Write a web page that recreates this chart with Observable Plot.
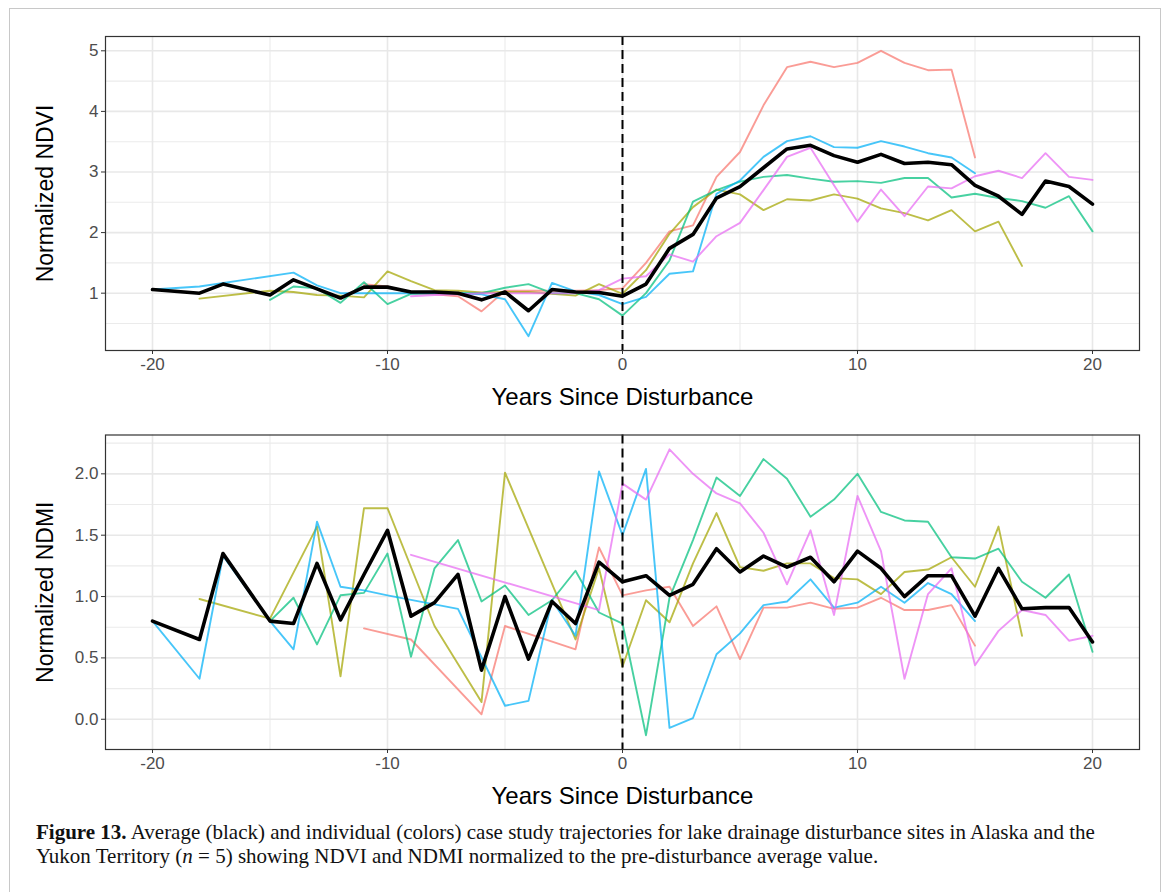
<!DOCTYPE html>
<html>
<head>
<meta charset="utf-8">
<script src="https://cdn.jsdelivr.net/npm/d3@7"></script>
<script src="https://cdn.jsdelivr.net/npm/@observablehq/plot@0.6"></script>
<style>
  body { margin: 0; background: #fff; }
  #fig { position: relative; width: 1168px; height: 892px; overflow: hidden; background: #fff;
         font-family: "Liberation Sans", Arial, sans-serif; }
  #border { position: absolute; left: 9px; top: 8px; width: 1150px; height: 900px; border: 1px solid #c8c8c8; }
  .panel { position: absolute; left: 0; }
  .panel svg { background: none !important; overflow: visible; }
  #caption { position: absolute; left: 36px; top: 820px; font-family: "Liberation Serif", "Times New Roman", serif;
             font-size: 21px; line-height: 24px; color: #111; white-space: nowrap; }
</style>
</head>
<body>
<div id="fig">
  <div id="border"></div>
  <div id="bottom" class="panel" style="top:398px"></div>
  <div id="top" class="panel" style="top:0px"></div>
  <div id="caption"><b>Figure 13.</b> Average (black) and individual (colors) case study trajectories for lake drainage disturbance sites in Alaska and the<br>Yukon Territory (<i>n</i> = 5) showing NDVI and NDMI normalized to the pre-disturbance average value.</div>
</div>
<script>
// Years relative to the disturbance, -20 … 20 (41 entries per series; null = no observation)
const years = d3.range(-20, 21);

const siteNames = ["site1", "site2", "site3", "site4", "site5"];
const siteColors = ["#F8766D", "#A3A500", "#00BF7D", "#00B0F6", "#E76BF3"];

// ---- Normalized NDVI ----
const ndviSite1 = [
  null, null, null, null, null, null, null, null, null, 1.15,
  1.11, 1.00, 0.98, 0.95, 0.70, 1.04, 1.04, 1.04, 1.04, 1.05,
  1.08, 1.50, 2.02, 2.12, 2.92, 3.33, 4.10, 4.73, 4.82, 4.73,
  4.80, 5.00, 4.80, 4.68, 4.69, 3.24, null, null, null, null, null];
const ndviSite2 = [
  null, null, 0.91, null, null, 1.04, 1.02, 0.97, 0.96, 0.93,
  1.36, 1.20, 1.05, 1.04, 1.01, 1.02, 1.02, 0.99, 0.96, 1.15,
  0.99, 1.38, 1.98, 2.42, 2.71, 2.63, 2.37, 2.55, 2.53, 2.63,
  2.56, 2.40, 2.32, 2.20, 2.37, 2.02, 2.18, 1.45, null, null, null];
const ndviSite3 = [
  null, null, null, null, null, 0.89, 1.11, 1.08, 0.84, 1.18,
  0.82, 0.99, 1.00, 1.00, 1.00, 1.09, 1.15, 1.00, 1.00, 0.90,
  0.63, 1.00, 1.54, 2.51, 2.70, 2.84, 2.92, 2.95, 2.89, 2.84,
  2.85, 2.82, 2.90, 2.90, 2.58, 2.64, 2.57, 2.52, 2.41, 2.60, 2.02];
const ndviSite4 = [
  1.06, null, 1.11, null, null, null, 1.34, 1.13, 1.00, 1.00,
  1.00, 1.00, 1.00, 1.00, 0.98, 0.90, 0.29, 1.17, 1.03, 0.97,
  0.82, 0.94, 1.32, 1.36, 2.64, 2.86, 3.25, 3.51, 3.59, 3.41,
  3.40, 3.51, 3.42, 3.31, 3.24, 2.98, null, null, null, null, null];
const ndviSite5 = [
  null, null, null, null, null, null, null, null, null, null,
  null, 0.95, 0.97, 0.98, 1.00, 1.00, 1.00, 1.00, 1.00, 1.05,
  1.24, 1.28, 1.64, 1.52, 1.94, 2.16, 2.70, 3.25, 3.40, 2.78,
  2.18, 2.71, 2.27, 2.76, 2.73, 2.93, 3.02, 2.90, 3.31, 2.92, 2.87];
const ndviMean = [
  1.06, null, 1.00, 1.15, null, 0.97, 1.22, 1.07, 0.92, 1.10,
  1.10, 1.02, 1.02, 1.00, 0.89, 1.02, 0.71, 1.06, 1.02, 1.01,
  0.95, 1.15, 1.74, 1.97, 2.57, 2.76, 3.07, 3.38, 3.44, 3.27,
  3.16, 3.29, 3.14, 3.16, 3.12, 2.78, 2.60, 2.30, 2.85, 2.76, 2.47];

// ---- Normalized NDMI ----
const ndmiSite1 = [
  null, null, null, null, null, null, null, null, null, 0.74,
  null, 0.65, null, null, 0.04, 0.76, null, null, 0.57, 1.40,
  1.01, 1.05, 1.08, 0.76, 0.92, 0.49, 0.91, 0.91, 0.95, 0.90,
  0.91, 0.99, 0.89, 0.89, 0.93, 0.60, null, null, null, null, null];
const ndmiSite2 = [
  null, null, 0.98, null, null, 0.82, null, 1.57, 0.35, 1.72,
  1.72, null, 0.76, null, 0.14, 2.01, null, null, 0.65, 1.23,
  0.43, 0.97, 0.79, 1.27, 1.68, 1.24, 1.21, 1.27, 1.27, 1.15,
  1.14, 1.02, 1.20, 1.22, 1.32, 1.08, 1.57, 0.68, null, null, null];
const ndmiSite3 = [
  null, null, null, null, null, 0.80, 0.99, 0.61, 1.01, 1.03,
  1.35, 0.51, 1.23, 1.46, 0.96, 1.09, 0.85, 0.97, 1.21, 0.87,
  0.78, -0.13, 0.99, 1.46, 1.97, 1.82, 2.12, 1.96, 1.65, 1.79,
  2.00, 1.69, 1.62, 1.61, 1.32, 1.31, 1.39, 1.12, 0.99, 1.18, 0.55];
const ndmiSite4 = [
  0.80, null, 0.33, 1.33, null, 0.80, 0.57, 1.61, 1.08, 1.05,
  1.01, null, null, 0.90, null, 0.11, 0.15, 0.97, 0.68, 2.02,
  1.50, 2.04, -0.07, 0.01, 0.53, 0.70, 0.93, 0.96, 1.14, 0.91,
  0.95, 1.08, 0.95, 1.11, 1.02, 0.80, null, null, null, null, null];
const ndmiSite5 = [
  null, null, null, null, null, null, null, null, null, null,
  null, 1.34, null, null, null, null, null, null, null, 0.89,
  1.92, 1.79, 2.20, 2.00, 1.84, 1.76, 1.52, 1.10, 1.54, 0.85,
  1.82, 1.37, 0.33, 1.02, 1.23, 0.44, 0.72, 0.89, 0.85, 0.64, 0.68];
const ndmiMean = [
  0.80, null, 0.65, 1.35, null, 0.80, 0.78, 1.27, 0.81, 1.18,
  1.54, 0.84, 0.95, 1.18, 0.40, 1.00, 0.49, 0.96, 0.78, 1.28,
  1.12, 1.17, 1.01, 1.10, 1.39, 1.20, 1.33, 1.24, 1.32, 1.12,
  1.37, 1.23, 1.00, 1.17, 1.17, 0.84, 1.23, 0.90, 0.91, 0.91, 0.63];

// Axis breaks
const xMajor = [-20, -10, 0, 10, 20];
const xMinor = [-15, -5, 5, 15];
const ndviMajor = [1, 2, 3, 4, 5];
const ndviMinor = [0.5, 1.5, 2.5, 3.5, 4.5];
const ndmiMajor = [0, 0.5, 1, 1.5, 2];
const ndmiMinor = [0.25, 0.75, 1.25, 1.75, 2.25];

// Long table of one indicator; null years are dropped so each line joins its observed years
function toRows(series, names) {
  return series.flatMap((vals, i) =>
    years.map((year, j) => ({site: names[i], year, value: vals[j]}))
         .filter(d => d.value != null));
}

function panel({sites, mean, yDomain, yMajor, yMinor, yFormat, yTitle, height, marginTop, marginBottom}) {
  const rows = toRows(sites, siteNames);
  const meanRows = toRows([mean], ["mean"]);
  return Plot.plot({
    width: 1168,
    height,
    marginLeft: 105,
    marginRight: 29,
    marginTop,
    marginBottom,
    style: {fontFamily: '"Liberation Sans", Arial, sans-serif', fontSize: "17px", background: "none", overflow: "visible"},
    x: {domain: [-22, 22]},
    y: {domain: yDomain},
    color: {domain: siteNames, range: siteColors},
    marks: [
      Plot.gridX(xMinor, {stroke: "#ebebeb", strokeOpacity: 1, strokeWidth: 1.1}),
      Plot.gridY(yMinor, {stroke: "#ebebeb", strokeOpacity: 1, strokeWidth: 1.1}),
      Plot.gridX(xMajor, {stroke: "#e8e8e8", strokeOpacity: 1, strokeWidth: 1.6}),
      Plot.gridY(yMajor, {stroke: "#e8e8e8", strokeOpacity: 1, strokeWidth: 1.6}),
      Plot.line(rows, {x: "year", y: "value", z: "site", stroke: "site",
                       strokeWidth: 1.9, strokeOpacity: 0.72}),
      Plot.ruleX([0], {stroke: "black", strokeWidth: 2, strokeDasharray: "9,5"}),
      Plot.line(meanRows, {x: "year", y: "value", stroke: "black", strokeWidth: 3.6}),
      Plot.frame({stroke: "#333", strokeWidth: 1.2}),
      Plot.axisX(xMajor, {tickSize: 4, tickPadding: 3, fontSize: 17, color: "#4d4d4d",
                          stroke: "#333", label: null, tickFormat: d => d < 0 ? "-" + (-d) : String(d)}),
      Plot.axisY(yMajor, {tickSize: 4, tickPadding: 3, fontSize: 17, color: "#4d4d4d",
                          stroke: "#333", label: null, tickFormat: yFormat}),
      Plot.text(["Years Since Disturbance"], {frameAnchor: "bottom", dy: 47, lineAnchor: "middle",
                                              fontSize: 24, fill: "black"}),
      Plot.text([yTitle], {frameAnchor: "left", dx: -60, rotate: -90, textAnchor: "middle",
                           lineAnchor: "middle", fontSize: 23, fill: "black"})
    ]
  });
}

document.getElementById("top").append(panel({
  sites: [ndviSite1, ndviSite2, ndviSite3, ndviSite4, ndviSite5],
  mean: ndviMean,
  yDomain: [0.054, 5.236],
  yMajor: ndviMajor,
  yMinor: ndviMinor,
  yFormat: d => String(d),
  yTitle: "Normalized NDVI",
  height: 398,
  marginTop: 36,
  marginBottom: 48
}));

document.getElementById("bottom").append(panel({
  sites: [ndmiSite1, ndmiSite2, ndmiSite3, ndmiSite4, ndmiSite5],
  mean: ndmiMean,
  yDomain: [-0.2465, 2.3165],
  yMajor: ndmiMajor,
  yMinor: ndmiMinor,
  yFormat: d3.format(".1f"),
  yTitle: "Normalized NDMI",
  height: 411,
  marginTop: 36.5,
  marginBottom: 60
}));
</script>
</body>
</html>
